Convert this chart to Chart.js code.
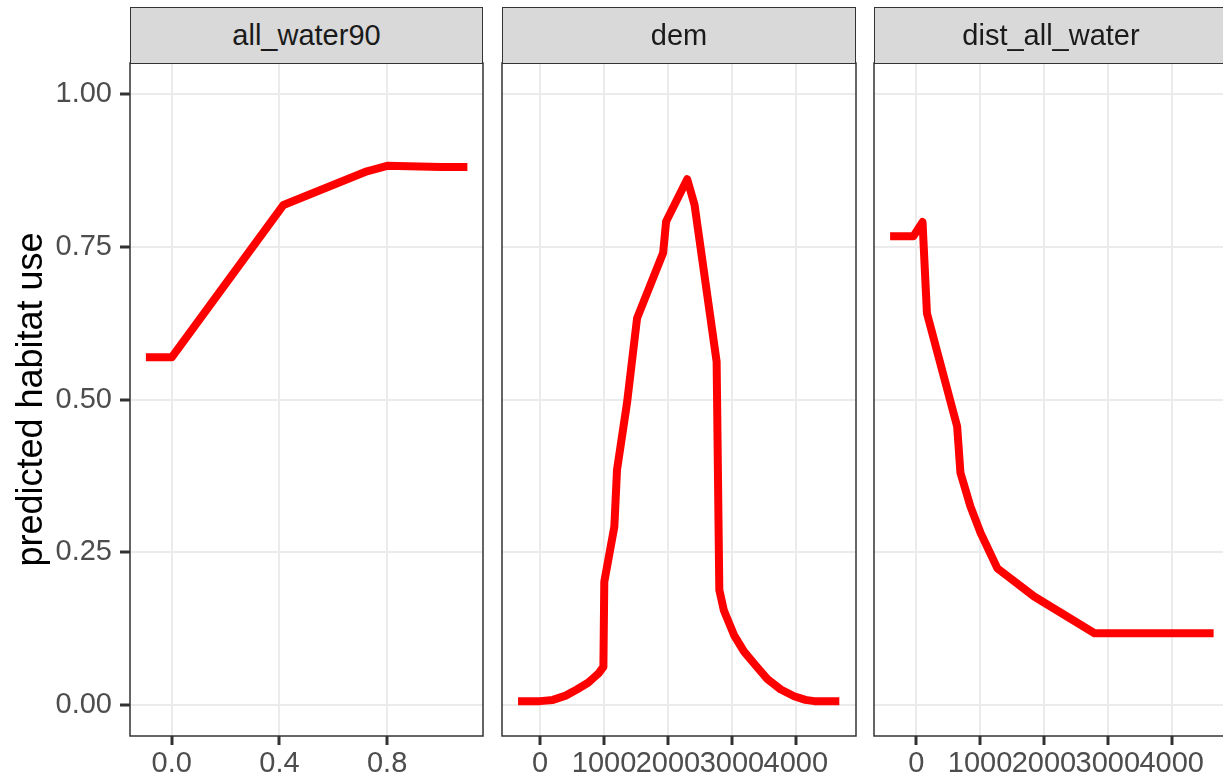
<!DOCTYPE html>
<html>
<head>
<meta charset="utf-8">
<script src="https://cdn.jsdelivr.net/npm/chart.js@4.4.1/dist/chart.umd.min.js"></script>
<style>
  html, body { margin: 0; padding: 0; background: #fff; overflow: hidden; }
  #wrap { position: relative; width: 1223px; height: 780px; overflow: hidden; background: #fff; }
  canvas { position: absolute; top: 0; }
  .strip {
    position: absolute; top: 7px; height: 57px; box-sizing: border-box;
    background: #d9d9d9; border: 1.5px solid #333;
    font: 29px "Liberation Sans", Arial, sans-serif; color: #1a1a1a;
    text-align: center; line-height: 54px; z-index: 2;
  }
</style>
</head>
<body>
<div id="wrap">
  <canvas id="c1" width="490" height="780" style="left:0px"></canvas>
  <canvas id="c2" width="365" height="780" style="left:495px"></canvas>
  <canvas id="c3" width="375" height="780" style="left:867px"></canvas>
  <div class="strip" style="left:130px;width:353px">all_water90</div>
  <div class="strip" style="left:502px;width:354px">dem</div>
  <div class="strip" style="left:874px;width:354px">dist_all_water</div>
</div>
<script>
// facet labels
const facets = ['all_water90', 'dem', 'dist_all_water'];

// all_water90 partial response
const waterX = [-0.096, 0.0, 0.415, 0.725, 0.8, 1.0, 1.098];
const waterY = [0.569, 0.569, 0.818, 0.873, 0.882, 0.880, 0.880];

// dem partial response
const demX = [-345, 0, 200, 400, 575, 750, 836, 920, 990, 1004, 1161, 1203, 1359, 1517, 1925, 1971, 2301, 2416, 2761, 2803, 2875, 3033, 3190, 3399, 3556, 3765, 3973, 4150, 4287, 4680];
const demY = [0.007, 0.007, 0.009, 0.016, 0.026, 0.037, 0.045, 0.053, 0.063, 0.202, 0.292, 0.385, 0.494, 0.633, 0.740, 0.791, 0.860, 0.818, 0.562, 0.189, 0.155, 0.115, 0.088, 0.062, 0.043, 0.026, 0.015, 0.009, 0.007, 0.007];

// dist_all_water partial response
const distX = [-409, -43, 99, 168, 641, 693, 850, 1008, 1271, 1847, 2792, 4657];
const distY = [0.767, 0.767, 0.790, 0.641, 0.456, 0.380, 0.325, 0.282, 0.224, 0.178, 0.118, 0.118];

// tick labels
const yTicks = [0, 0.25, 0.5, 0.75, 1.0];
const waterTicks = [0, 0.4, 0.8];
const distanceTicks = [0, 1000, 2000, 3000, 4000];

const panelBorder = {
  id: 'panelBorder',
  afterDatasetsDraw(chart) {
    const a = chart.chartArea, ctx = chart.ctx;
    ctx.save();
    ctx.strokeStyle = '#333';
    ctx.lineWidth = 1.5;
    ctx.strokeRect(a.left, a.top, a.right - a.left, a.bottom - a.top);
    ctx.restore();
  }
};

function makePanel(id, xs, ys, xMin, xMax, xTicks, fmt, yWidth, padRight, firstPanel) {
  const ctx = document.getElementById(id).getContext('2d');
  return new Chart(ctx, {
    type: 'line',
    data: {
      datasets: [{
        data: xs.map((x, i) => ({x: x, y: ys[i]})),
        borderColor: '#ff0000',
        borderWidth: 8,
        borderJoinStyle: 'round',
        borderCapStyle: 'butt',
        pointRadius: 0,
        tension: 0,
        fill: false
      }]
    },
    options: {
      responsive: false,
      animation: false,
      layout: { padding: { top: 63, right: padRight, left: 0, bottom: 0 } },
      plugins: { legend: { display: false }, tooltip: { enabled: false } },
      scales: {
        x: {
          type: 'linear',
          min: xMin,
          max: xMax,
          afterBuildTicks: s => { s.ticks = xTicks.map(v => ({value: v})); },
          afterFit: s => { s.height = 44; s.paddingLeft = 0; s.paddingRight = 0; },
          border: { display: false },
          grid: { color: '#ebebeb', lineWidth: 2, tickLength: 9, tickColor: '#333', tickWidth: 3 },
          ticks: {
            autoSkip: false, maxRotation: 0, padding: 2, color: '#4d4d4d',
            font: { family: '"Liberation Sans", Arial, sans-serif', size: 29 },
            callback: fmt
          }
        },
        y: {
          min: -0.05,
          max: 1.05,
          afterBuildTicks: s => { s.ticks = yTicks.map(v => ({value: v})); },
          afterFit: s => { s.width = yWidth; s.paddingTop = 0; s.paddingBottom = 0; },
          border: { display: false },
          grid: { color: '#ebebeb', lineWidth: 2, drawTicks: firstPanel, tickLength: 10, tickColor: '#333', tickWidth: 3 },
          ticks: {
            display: firstPanel, padding: 8, color: '#4d4d4d',
            font: { family: '"Liberation Sans", Arial, sans-serif', size: 29 },
            callback: v => v.toFixed(2)
          },
          title: {
            display: firstPanel,
            text: 'predicted habitat use',
            color: '#000',
            padding: { top: 10, bottom: 0 },
            font: { family: '"Liberation Sans", Arial, sans-serif', size: 36, lineHeight: 1.2 }
          }
        }
      }
    },
    plugins: [panelBorder]
  });
}

makePanel('c1', waterX, waterY, -0.155, 1.156, waterTicks, v => v.toFixed(1), 130, 7, true);
makePanel('c2', demX, demY, -596, 4941, distanceTicks, v => String(v), 7, 4, false);
makePanel('c3', distX, distY, -661, 4898, distanceTicks, v => String(v), 7, 13, false);
</script>
</body>
</html>
